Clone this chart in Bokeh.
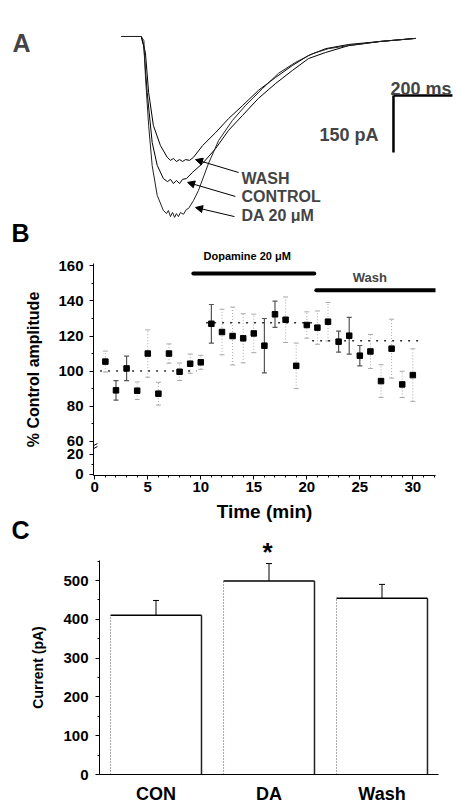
import numpy as np
from bokeh.plotting import figure
from bokeh.models import (Range1d, FactorRange, FixedTicker, Label, Arrow, NormalHead, Title,
                          Whisker, TeeHead, ColumnDataSource, CustomJSTickFormatter)
from bokeh.embed import file_html
from bokeh.resources import INLINE

FONT = "Liberation Sans"

# ---------------- Panel A data (time in ms, current in pA) ----------------
da_t = [0, 67, 76, 81, 92, 104, 121, 142, 153, 159, 166, 173, 180, 186, 193, 200, 210, 220, 227,
        244, 261, 295, 329, 376, 420, 478, 532, 590, 648, 702, 770, 878, 997]
da_i = [0, 0, -11, -103, -234, -340, -418, -458, -466, -458, -474, -463, -476, -466, -474, -463, -468, -455, -453,
        -432, -405, -334, -274, -221, -182, -137, -97, -68, -45, -32, -24, -13, -5]
con_t = [0, 67, 75, 87, 104, 121, 142, 156, 166, 176, 186, 197, 207, 220, 240, 275, 319, 363, 410,
         464, 522, 580, 634, 692, 770, 878, 997]
con_i = [0, 0, -24, -147, -279, -339, -374, -382, -376, -387, -379, -387, -376, -374, -358, -334, -295, -247, -208,
         -163, -124, -89, -58, -42, -24, -13, -5]
wash_t = [0, 67, 81, 92, 108, 132, 155, 166, 176, 186, 197, 207, 217, 231, 244, 275, 319, 363, 410,
          464, 522, 580, 634, 692, 770, 878, 997]
wash_i = [0, 0, -42, -147, -234, -287, -318, -326, -321, -329, -324, -329, -324, -326, -318, -287, -253, -216, -182,
          -142, -108, -76, -50, -32, -21, -13, -5]
scale_ms = 200
scale_pa = 150

# ---------------- Panel B data ----------------
times = list(range(1, 31))
amp = [105.4, 89.0, 101.5, 88.8, 110.0, 87.1, 110.0, 99.6, 104.2, 105.0,
       127.0, 122.3, 120.0, 118.7, 121.5, 114.5, 132.4, 129.3, 103.0, 126.3,
       124.8, 128.2, 116.8, 120.2, 108.8, 111.2, 94.3, 112.8, 92.4, 97.7]
err = [6.0, 5.6, 7.0, 5.0, 13.5, 6.5, 5.5, 5.0, 5.5, 4.0,
       11.0, 13.0, 16.5, 14.0, 11.0, 15.5, 7.5, 13.0, 13.0, 7.5,
       9.5, 11.0, 6.0, 10.5, 5.8, 9.7, 9.3, 16.8, 7.5, 15.0]
solid_err_times = [2, 3, 11, 16, 17, 23, 24, 25]
mean_level = [100.0, 127.6, 117.3]
mean_start = [0.5, 10.5, 20.5]
mean_end = [9.6, 20.5, 30.7]
drug_start = [9.3, 20.9]
drug_end = [20.7, 32.2]
drug_names = ["Dopamine 20 \u03bcM", "Wash"]
ytick_vals = [0, 20, 60, 80, 100, 120, 140, 160]
ytick_minor = [10, 70, 90, 110, 130, 150]
xtick_vals = [0, 5, 10, 15, 20, 25, 30]

# ---------------- Panel C data ----------------
cats = ["CON", "DA", "Wash"]
current = [410.6, 498.7, 454.0]
sem = [38.0, 45.0, 36.0]
ctick_vals = [0, 100, 200, 300, 400, 500]


def brk(v):
    # broken axis: values >= 60 are linear, 0..20 compressed below the break
    return v if v >= 60 else 41.1 + 0.565 * v


def clean(p):
    p.grid.visible = False
    p.outline_line_color = None
    p.background_fill_color = "white"
    p.border_fill_color = "white"


def big_title(text, offset, size="25px", standoff=0):
    return Title(text=text, align="left", offset=offset, text_font=FONT, text_font_style="bold",
                 text_font_size=size, text_color="black", standoff=standoff)


# ================= Panel A =================
pA = figure(width=463, height=223, x_range=Range1d(-410.2, 1159.4), y_range=Range1d(-492.2, 94.75),
            min_border=0, output_backend="svg", toolbar_location=None, title=None)
clean(pA)
pA.axis.visible = False
pA.line(wash_t, wash_i, line_color="black", line_width=1)
pA.line(con_t, con_i, line_color="black", line_width=1)
pA.line(da_t, da_i, line_color="#222222", line_width=1)

sx0, sy0 = 922, -155
pA.line([sx0, sx0 + scale_ms], [sy0, sy0], line_color="black", line_width=2.5)
pA.line([sx0, sx0], [sy0, sy0 - scale_pa], line_color="black", line_width=2.5)
pA.add_layout(Label(x=sx0 - 10, y=-137, text=f"{scale_ms} ms", text_font=FONT, text_font_style="bold",
                    text_font_size="18px", text_align="left", text_baseline="alphabetic"))
pA.add_layout(Label(x=sx0 - 51, y=-258, text=f"{scale_pa} pA", text_font=FONT, text_font_style="bold",
                    text_font_size="18px", text_align="right", text_baseline="alphabetic"))

lab_x = 407
for txt, yb in [("WASH", -374), ("CONTROL", -421), ("DA 20 \u03bcM", -471)]:
    pA.add_layout(Label(x=lab_x, y=yb, text=txt, text_font=FONT, text_font_style="bold",
                        text_font_size="16px", text_align="left", text_baseline="alphabetic"))
for (xs, ys, xe, ye) in [(397, -358, 251, -324), (386, -421, 224, -384), (383, -474, 251, -450)]:
    pA.add_layout(Arrow(end=NormalHead(size=7, fill_color="black", line_color="black"),
                        x_start=xs, y_start=ys, x_end=xe, y_end=ye, line_width=1, line_color="black"))
pA.add_layout(Label(x=-369.5, y=-15.8, text="A", text_font=FONT, text_font_style="bold",
                    text_font_size="25px", text_align="left", text_baseline="alphabetic"))

# ================= Panel B =================
pB = figure(width=463, height=317, x_range=Range1d(-0.12, 32.14), y_range=Range1d(40.4, 161.4),
            min_border_left=93, min_border_right=28, min_border_top=50, min_border_bottom=55,
            output_backend="svg", toolbar_location=None, title=None)
clean(pB)
pB.border_fill_color = None
pB.styles = {"margin-top": "-10px"}
pB.add_layout(big_title(drug_names[0], 110, size="11px", standoff=3), "above")
pB.add_layout(big_title("B", -82, standoff=0), "above")

# means
pB.segment(x0=mean_start, y0=mean_level, x1=mean_end, y1=mean_level,
           line_color="#333333", line_width=1.5, line_dash="2 6")

# error bars
t_arr = np.array(times, dtype=float)
a_arr = np.array(amp)
e_arr = np.array(err)
is_solid = np.isin(t_arr, solid_err_times)
for mask, col, dash, lw in [(~is_solid, "#a8a8a8", "1 2", 1.0), (is_solid, "#555555", "solid", 1.2)]:
    src = ColumnDataSource(dict(t=t_arr[mask], lo=a_arr[mask] - e_arr[mask], hi=a_arr[mask] + e_arr[mask]))
    pB.add_layout(Whisker(base="t", lower="lo", upper="hi", source=src, line_color=col, line_width=lw,
                          line_dash=dash,
                          upper_head=TeeHead(size=5, line_color=col, line_width=lw),
                          lower_head=TeeHead(size=5, line_color=col, line_width=lw)))
pB.scatter(times, amp, marker="square", size=5.5, color="black")

# drug bars
bar_y = [155.7, 146.1]
pB.segment(x0=drug_start, y0=bar_y, x1=drug_end, y1=bar_y, line_color="black", line_width=4, line_cap="round")
pB.add_layout(Label(x=(drug_start[1] + drug_end[1]) / 2 - 0.6, y=153.6, text=drug_names[1], text_font=FONT,
                    text_font_style="bold", text_font_size="13px", text_align="center", text_baseline="middle"))

# axis break marks
pB.segment(x0=[-0.4, -0.4], y0=[56.6, 54.9], x1=[0.25, 0.25], y1=[58.6, 56.9], line_color="black", line_width=1)

pB.yaxis.ticker = FixedTicker(ticks=[brk(v) for v in ytick_vals], minor_ticks=[brk(v) for v in ytick_minor])
pB.yaxis.formatter = CustomJSTickFormatter(
    code="return tick < 59 ? String(Math.round((tick - 41.1) / 0.565)) : String(Math.round(tick));")
pB.xaxis.ticker = FixedTicker(ticks=xtick_vals, minor_ticks=list(range(0, 33)))
pB.xaxis.axis_label = "Time (min)"
pB.yaxis.axis_label = "% Control amplitude"

for ax in (pB.xaxis[0], pB.yaxis[0]):
    ax.axis_line_color = "black"
    ax.axis_line_width = 1
    ax.major_tick_in = 0
    ax.major_tick_out = 4
    ax.minor_tick_in = 0
    ax.minor_tick_out = 2
    ax.major_label_text_font = FONT
    ax.major_label_text_font_style = "bold"
    ax.major_label_text_font_size = "15px"
    ax.major_label_text_color = "black"
    ax.axis_label_text_font = FONT
    ax.axis_label_text_font_style = "bold"
    ax.axis_label_text_color = "black"
pB.xaxis.major_label_standoff = 2
pB.xaxis.axis_label_standoff = 6
pB.xaxis.axis_label_text_font_size = "19px"
pB.yaxis.major_label_standoff = 6
pB.yaxis.axis_label_standoff = 13
pB.yaxis.axis_label_text_font_size = "16px"

# ================= Panel C =================
pC = figure(width=463, height=296, x_range=FactorRange(*cats), y_range=Range1d(0, 551.6),
            min_border_left=99, min_border_right=25, min_border_top=50, min_border_bottom=27,
            output_backend="svg", toolbar_location=None, title=None)
clean(pC)
pC.border_fill_color = None
pC.styles = {"margin-top": "-20px"}
pC.add_layout(big_title("*", 163, size="26px", standoff=-12), "above")
pC.add_layout(big_title("C", -88, standoff=-7), "above")

bw = 0.805
centers = np.arange(len(cats)) + 0.5
cur = np.array(current)
pC.vbar(x=cats, top=current, width=bw, fill_color="white", line_color=None)
pC.segment(x0=centers - bw / 2, y0=cur, x1=centers + bw / 2, y1=cur, line_color="black", line_width=1.5)
pC.segment(x0=centers + bw / 2, y0=0 * cur, x1=centers + bw / 2, y1=cur, line_color="#222222", line_width=1.5)
pC.segment(x0=centers - bw / 2, y0=0 * cur, x1=centers - bw / 2, y1=cur, line_color="#555555",
           line_width=1, line_dash="1 2")
srcC = ColumnDataSource(dict(c=cats, lo=current, hi=list(cur + np.array(sem))))
pC.add_layout(Whisker(base="c", lower="lo", upper="hi", source=srcC, line_color="black", line_width=1,
                      upper_head=TeeHead(size=6, line_color="black", line_width=1), lower_head=None))

pC.yaxis.ticker = FixedTicker(ticks=ctick_vals, minor_ticks=list(range(0, 551, 50)))
pC.yaxis.axis_label = "Current (pA)"
for ax in (pC.xaxis[0], pC.yaxis[0]):
    ax.axis_line_color = "black"
    ax.axis_line_width = 1
    ax.major_tick_in = 0
    ax.minor_tick_in = 0
    ax.major_label_text_font = FONT
    ax.major_label_text_font_style = "bold"
    ax.major_label_text_color = "black"
    ax.axis_label_text_font = FONT
    ax.axis_label_text_font_style = "bold"
    ax.axis_label_text_color = "black"
pC.yaxis.major_tick_out = 4
pC.yaxis.minor_tick_out = 2
pC.yaxis.major_label_text_font_size = "15px"
pC.yaxis.major_label_standoff = 7
pC.yaxis.axis_label_text_font_size = "14px"
pC.yaxis.axis_label_standoff = 14
pC.xaxis.major_tick_line_color = None
pC.xaxis.minor_tick_line_color = None
pC.xaxis.major_label_text_font_size = "18px"
pC.xaxis.major_label_standoff = 3

open("out.html", "w").write(file_html([pA, pB, pC], INLINE))
